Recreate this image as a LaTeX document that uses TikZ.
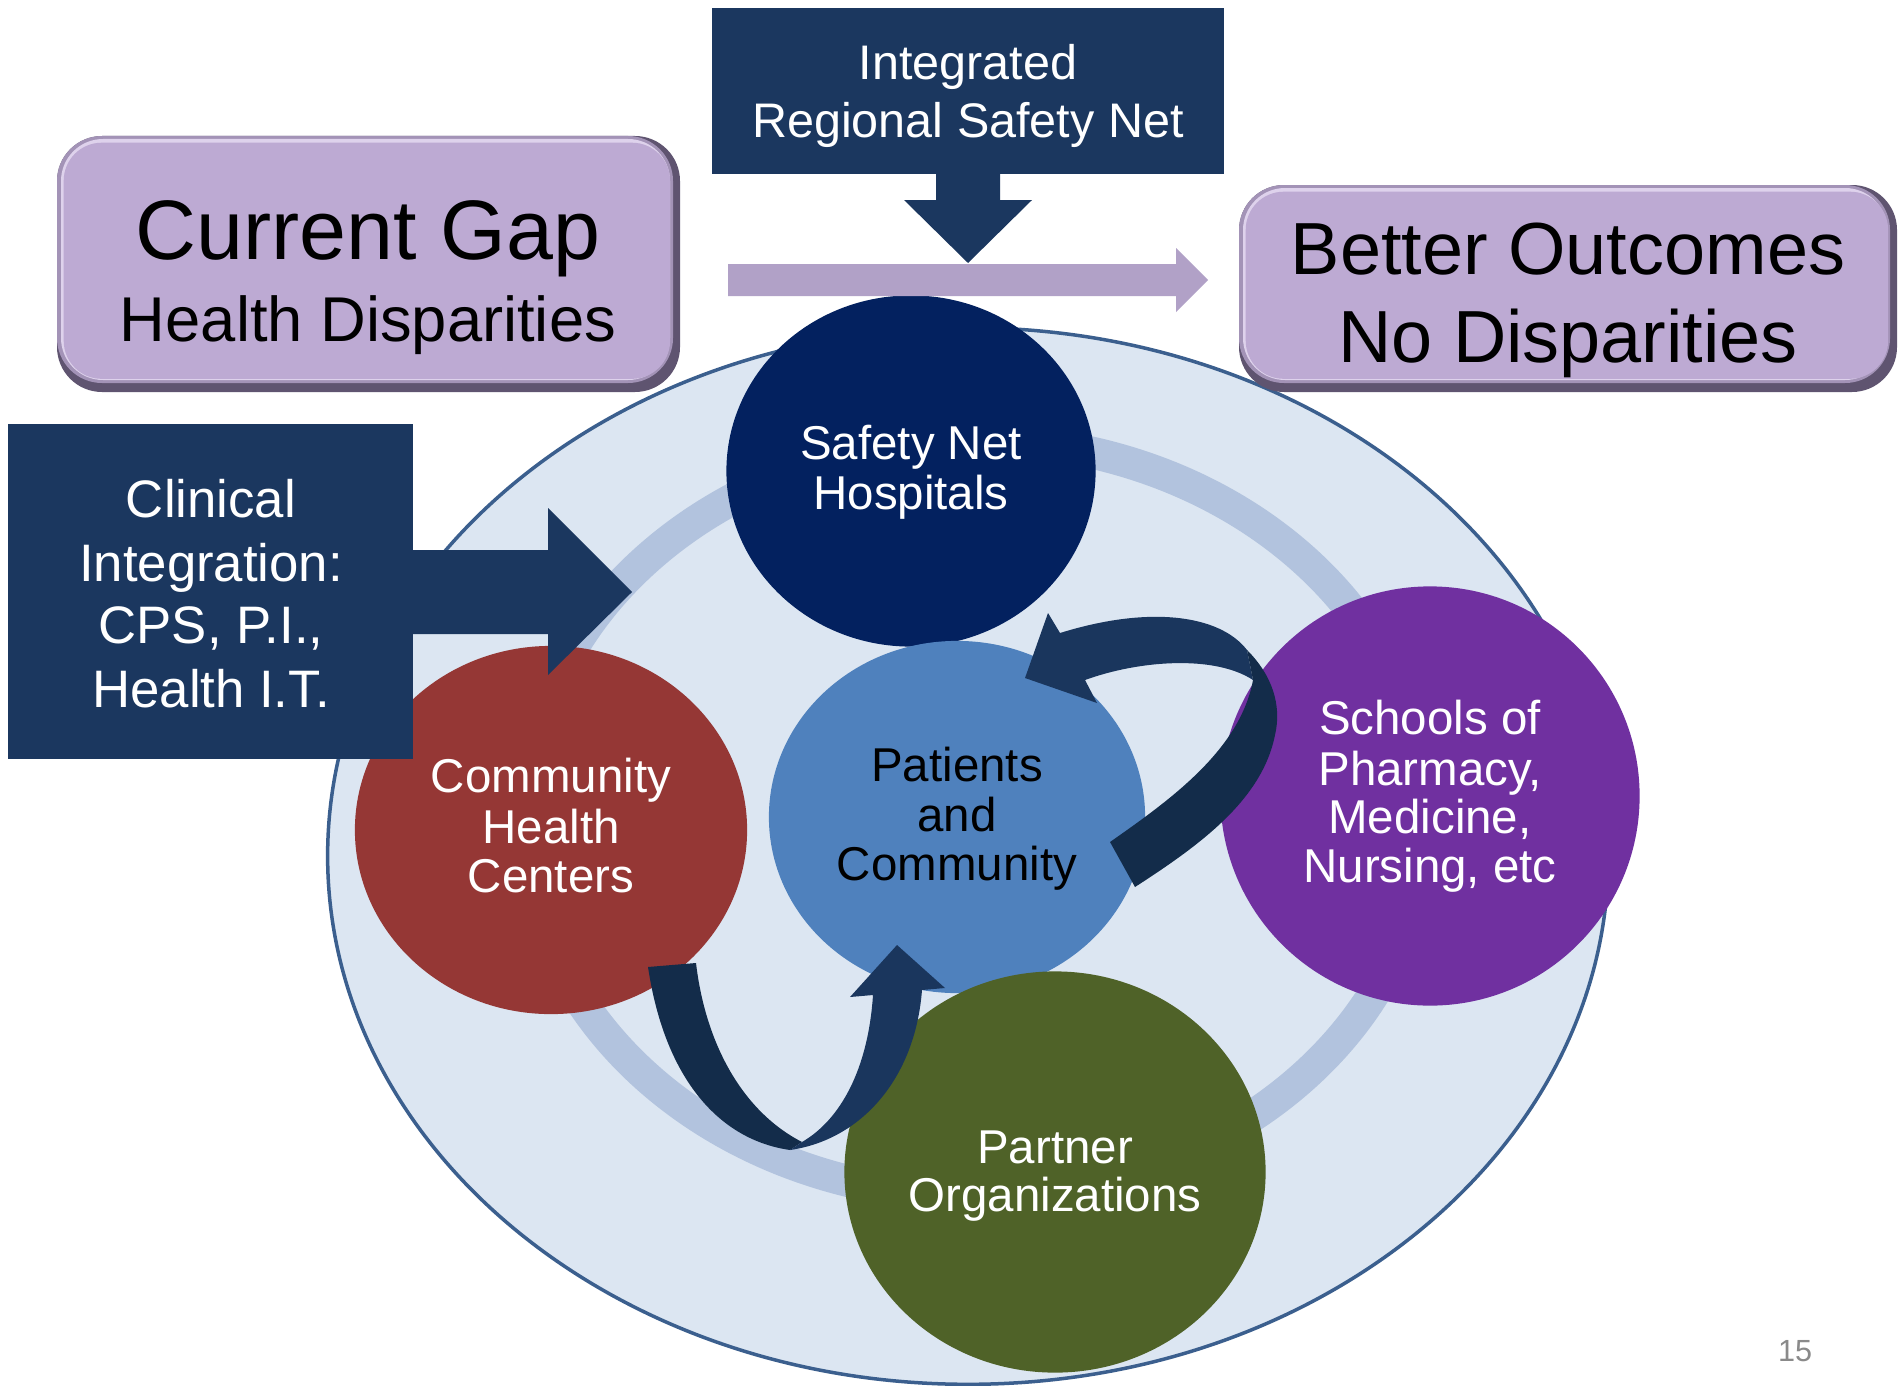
\documentclass[tikz,border=0pt]{standalone}
\usepackage{fontspec}
\setmainfont{Liberation Sans}
\usetikzlibrary{arrows.meta,shapes.geometric}
\definecolor{ellfill}{HTML}{DCE6F2}
\definecolor{ellborder}{HTML}{3B5F8E}
\definecolor{ringc}{HTML}{B2C3DE}
\definecolor{navybox}{HTML}{1B375F}
\definecolor{hospc}{HTML}{03215F}
\definecolor{patc}{HTML}{4F81BD}
\definecolor{chcc}{HTML}{953735}
\definecolor{schc}{HTML}{7030A0}
\definecolor{partc}{HTML}{4F6228}
\definecolor{lavface}{HTML}{BDAAD3}
\definecolor{lavdark}{HTML}{5F5470}
\definecolor{lavmid}{HTML}{A393B7}
\definecolor{lavlight}{HTML}{DED2EC}
\definecolor{lavarrow}{HTML}{B1A1C7}
\definecolor{arrdark}{HTML}{132C4A}
\definecolor{arrlight}{HTML}{1A365D}
\definecolor{pagenum}{HTML}{8A8A8A}
\begin{document}
\begin{tikzpicture}[x=0.01cm,y=-0.01cm,
  bub/.style={ellipse, inner sep=0pt, outer sep=0pt},
  ctext/.style={anchor=base, inner sep=0pt, font=\fontsize{13.5}{14}\selectfont},
  wtext/.style={ctext, text=white},
  btext/.style={ctext, text=black},
  sqbox/.style={rectangle, fill=navybox, inner sep=0pt, outer sep=0pt, anchor=north west},
  lavface/.style={fill=lavface, rounded corners=0.38cm},
  cliptext/.style={anchor=base, inner sep=0pt, text=white, font=\fontsize{15}{18}\selectfont}
]
\useasboundingbox (0,0) rectangle (1904,1385);
\fill[white] (0,0) rectangle (1904,1385);

% outer region and ring
\node[bub, fill=ellfill, draw=ellborder, line width=0.035cm, minimum width=12.80cm, minimum height=10.56cm] (region) at (968,856) {};
\node[bub, draw=ringc, line width=0.32cm, minimum width=9.00cm, minimum height=7.56cm] (ring) at (975,818) {};

% circles
\node[bub, fill=hospc, minimum width=3.69cm, minimum height=3.51cm] (hosp) at (911,471) {};
\node[bub, fill=patc, minimum width=3.76cm, minimum height=3.52cm] (pat) at (957,817) {};
\node[bub, fill=chcc, minimum width=3.92cm, minimum height=3.68cm] (chc) at (551,830) {};
\node[bub, fill=schc, minimum width=4.19cm, minimum height=4.19cm] (sch) at (1430,796) {};
\node[bub, fill=partc, minimum width=4.21cm, minimum height=4.01cm] (part) at (1055,1172) {};

% circle texts
\node[wtext] (hosp1) at (911,459) {Safety Net};
\node[wtext] (hosp2) at (911,509) {Hospitals};
\node[btext] (pat1) at (957,781) {Patients};
\node[btext] (pat2) at (957,831) {and};
\node[btext] (pat3) at (957,880) {Community};
\node[wtext] (chc1) at (551,792) {Community};
\node[wtext] (chc2) at (551,843) {Health};
\node[wtext] (chc3) at (551,892) {Centers};
\node[wtext] (sch1) at (1430,734) {Schools of};
\node[wtext] (sch2) at (1430,785) {Pharmacy,};
\node[wtext] (sch3) at (1430,833) {Medicine,};
\node[wtext] (sch4) at (1430,882) {Nursing, etc};
\node[wtext] (part1) at (1055,1163) {Partner};
\node[wtext] (part2) at (1055,1211) {Organizations};

% right curved arrow (Schools -> Patients)
\fill[arrlight] (1253,680) -- (1247,650) .. controls (1220,615) and (1150,605) .. (1060,633)
  -- (1048,613) -- (1025,678) -- (1097,703) -- (1085,680)
  .. controls (1140,660) and (1215,655) .. (1253,680) -- cycle;
\fill[arrdark] (1110,842) .. controls (1170,800) and (1240,750) .. (1253,680) -- (1247,650)
  .. controls (1272,675) and (1282,705) .. (1275,735)
  .. controls (1262,800) and (1200,845) .. (1135,887) -- cycle;

% bottom curved arrow (CHC -> Patients)
\fill[arrdark] (648,967) -- (696,963) .. controls (705,1040) and (740,1110) .. (802,1142)
  -- (790,1150) .. controls (720,1140) and (665,1080) .. (648,967) -- cycle;
\fill[arrlight] (790,1150) .. controls (860,1140) and (915,1080) .. (922,990)
  -- (945,988) -- (897,945) -- (850,997) -- (873,995)
  .. controls (868,1070) and (840,1120) .. (802,1142) -- cycle;

% Current Gap box (bevelled)
\fill[lavdark, rounded corners=0.45cm] (57,136) rectangle (680,392);
\fill[lavmid, rounded corners=0.45cm] (57,136) rectangle (673,383);
\fill[lavlight, rounded corners=0.42cm] (61,139) rectangle (670,380);
\node[lavface, inner sep=0pt, minimum width=6.06cm, minimum height=2.36cm, anchor=north west] (gap) at (63,142) {};
\node[anchor=base, inner sep=0pt, font=\fontsize{24}{28}\selectfont] (gap1) at (368,259) {Current Gap};
\node[anchor=base, inner sep=0pt, font=\fontsize{18}{22}\selectfont] (gap2) at (368,341) {Health Disparities};

% Better Outcomes box (bevelled)
\fill[lavdark, rounded corners=0.45cm] (1239,185) rectangle (1897,392);
\fill[lavmid, rounded corners=0.45cm] (1239,185) rectangle (1890,383);
\fill[lavlight, rounded corners=0.42cm] (1243,188) rectangle (1887,380);
\node[lavface, inner sep=0pt, minimum width=6.42cm, minimum height=1.87cm, anchor=north west] (goal) at (1245,191) {};
\node[anchor=base, inner sep=0pt, font=\fontsize{21}{25}\selectfont] (goal1) at (1568,274) {Better Outcomes};
\node[anchor=base, inner sep=0pt, font=\fontsize{21}{25}\selectfont] (goal2) at (1568,362) {No Disparities};

% progress arrow
\fill[lavarrow] (728,264) -- (1176,264) -- (1176,248) -- (1208,280) -- (1176,312) -- (1176,296) -- (728,296) -- cycle;

% Integrated Regional Safety Net box + arrow
\node[sqbox, minimum width=5.12cm, minimum height=1.66cm] (irsn) at (712,8) {};
\fill[navybox] (936,173) -- (936,200) -- (904,200) -- (968,263) -- (1032,200) -- (1000,200) -- (1000,173) -- cycle;
\node[anchor=base, inner sep=0pt, text=white, font=\fontsize{13.8}{16}\selectfont] (irsn1) at (968,80) {Integrated};
\node[anchor=base, inner sep=0pt, text=white, font=\fontsize{13.8}{16}\selectfont] (irsn2) at (968,137) {Regional Safety Net};

% Clinical Integration box + arrow
\node[sqbox, minimum width=4.05cm, minimum height=3.35cm] (clin) at (8,424) {};
\fill[navybox] (412,550) -- (548,550) -- (548,508) -- (632,592) -- (548,675) -- (548,634) -- (412,634) -- cycle;
\node[cliptext] (clin1) at (211,517) {Clinical};
\node[cliptext] (clin2) at (211,581) {Integration:};
\node[cliptext] (clin3) at (211,643) {CPS, P.I.,};
\node[cliptext] (clin4) at (211,707) {Health I.T.};

% page number
\node[anchor=base, inner sep=0pt, text=pagenum, font=\fontsize{8.7}{10}\selectfont] (pg) at (1795,1361) {15};
\end{tikzpicture}
\end{document}
